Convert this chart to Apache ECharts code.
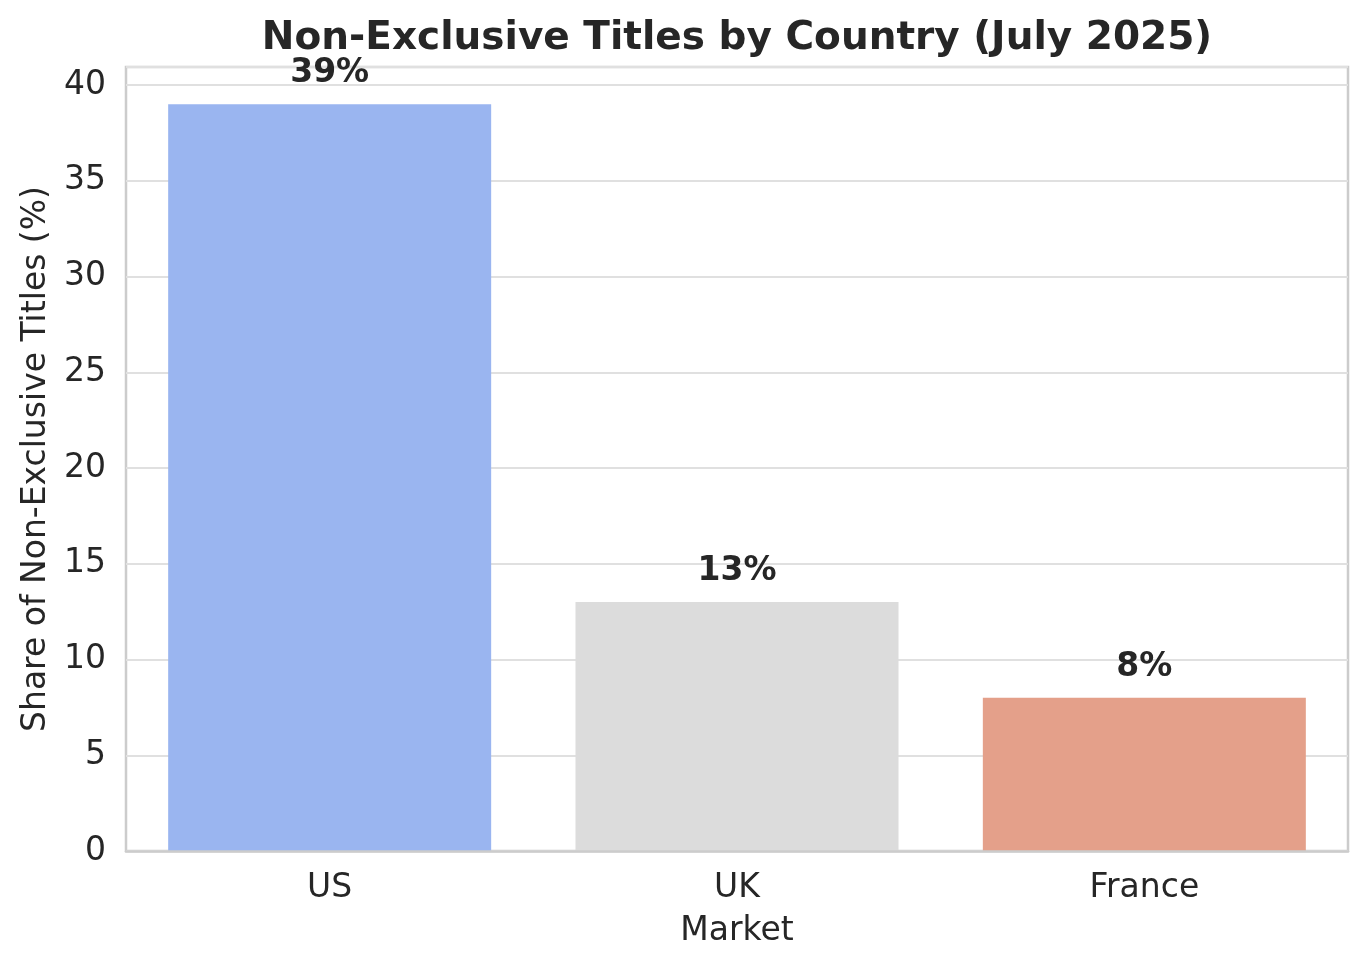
<!DOCTYPE html>
<html>
<head>
<meta charset="utf-8">
<title>Non-Exclusive Titles by Country</title>
<script src="https://cdn.jsdelivr.net/npm/echarts@6/dist/echarts.min.js"></script>
<style>
  html, body { margin: 0; padding: 0; background: #fff; }
  #chart { width: 1368px; height: 968px; }
</style>
</head>
<body>
<div id="chart"></div>
<script>
const markets = ["US", "UK", "France"];
const shares = [39, 13, 8];
const barColors = ["#9ab5f0", "#dcdcdc", "#e4a08a"];

const textColor = "#262626";
const font = "DejaVu Sans";

const myChart = echarts.init(document.getElementById("chart"));

const option = {
  animation: false,
  title: {
    text: "Non-Exclusive Titles by Country (July 2025)",
    left: 737,
    textAlign: "center",
    top: 19,
    padding: 0,
    textStyle: {
      fontFamily: font,
      fontSize: 39,
      fontWeight: "bold",
      color: textColor,
    },
  },
  grid: {
    left: 126,
    right: 20,
    top: 67,
    bottom: 117,
    show: true,
    borderColor: "#cccccc",
    borderWidth: 2.5,
  },
  xAxis: {
    type: "category",
    data: markets,
    z: 5,
    name: "Market",
    nameLocation: "middle",
    nameGap: 64,
    nameTextStyle: { fontFamily: font, fontSize: 33, color: textColor },
    axisLine: { show: true, lineStyle: { color: "#cccccc", width: 2.5 } },
    axisTick: { show: false },
    axisLabel: {
      margin: 21,
      fontFamily: font,
      fontSize: 33,
      color: textColor,
    },
    splitLine: { show: false },
  },
  yAxis: {
    type: "value",
    min: 0,
    max: 40.95,
    interval: 5,
    name: "Share of Non-Exclusive Titles (%)",
    nameLocation: "middle",
    nameGap: 73,
    nameTextStyle: { fontFamily: font, fontSize: 33, color: textColor },
    axisLine: { show: false },
    axisTick: { show: false },
    axisLabel: {
      margin: 20,
      showMaxLabel: false,
      fontFamily: font,
      fontSize: 33,
      color: textColor,
    },
    splitLine: { show: true, lineStyle: { color: "#e0e0e0", width: 2 } },
  },
  series: [
    {
      type: "bar",
      barWidth: 323,
      data: shares.map((v, i) => ({
        value: v,
        itemStyle: { color: barColors[i] },
      })),
      label: {
        show: true,
        position: "top",
        distance: 14,
        formatter: "{c}%",
        fontFamily: font,
        fontSize: 33,
        fontWeight: "bold",
        color: textColor,
      },
    },
  ],
};

myChart.setOption(option);
</script>
</body>
</html>
